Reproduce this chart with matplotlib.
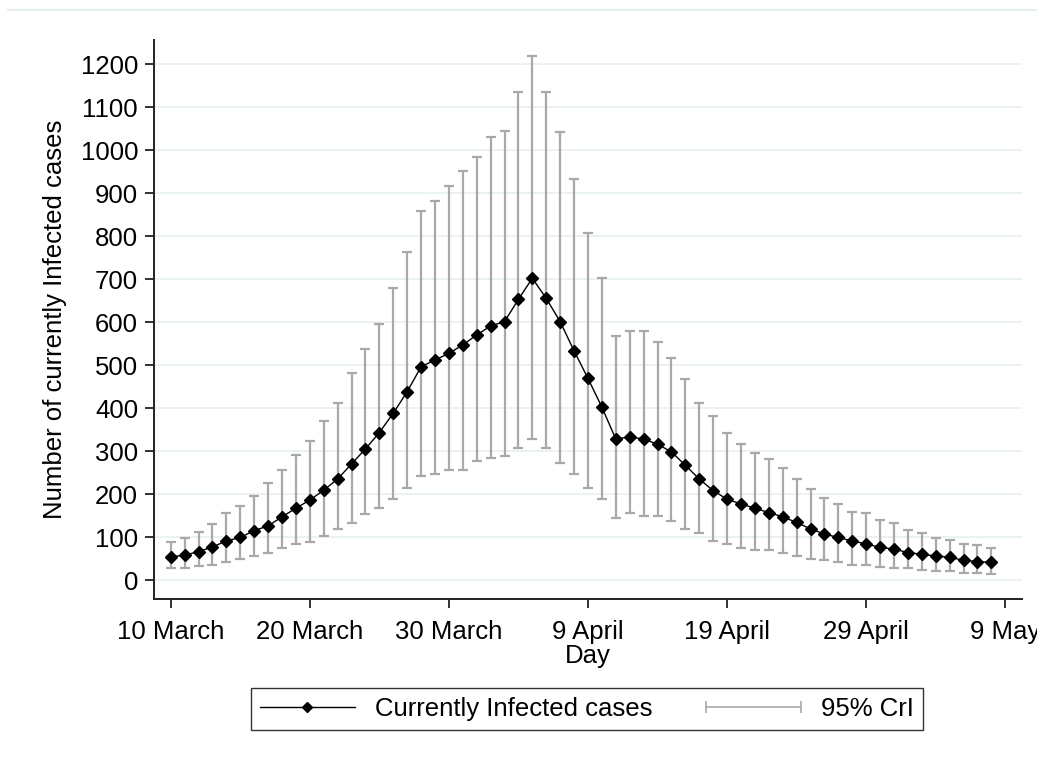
import numpy as np
import matplotlib
matplotlib.use('Agg')
import matplotlib.pyplot as plt
from matplotlib.lines import Line2D
from matplotlib.legend_handler import HandlerLine2D

plt.rcParams['font.family'] = ['Liberation Sans', 'DejaVu Sans']

# days since 10 March
days = np.arange(60)
tick_days = [0, 10, 20, 30, 40, 50, 60]
tick_labels = ['10 March', '20 March', '30 March', '9 April', '19 April', '29 April', '9 May']

infected = [54, 58, 66, 77, 91, 99, 115, 126, 147, 167,
            186, 209, 235, 270, 305, 343, 388, 438, 496, 512,
            527, 547, 570, 591, 601, 653, 702, 655, 601, 533,
            469, 402, 328, 333, 328, 316, 298, 267, 235, 208,
            188, 177, 167, 157, 147, 134, 119, 107, 99, 91,
            84, 76, 72, 64, 60, 56, 53, 46, 43, 41]
upper = [89, 98, 112, 130, 157, 172, 195, 226, 257, 292,
         323, 370, 412, 482, 537, 595, 680, 762, 858, 881,
         917, 951, 983, 1030, 1045, 1134, 1219, 1134, 1041, 932,
         808, 703, 567, 579, 579, 553, 517, 467, 412, 381,
         343, 316, 296, 281, 260, 234, 211, 191, 178, 159,
         155, 140, 132, 116, 109, 97, 93, 85, 81, 74]
lower = [27, 27, 33, 36, 43, 50, 56, 62, 75, 83,
         89, 102, 118, 133, 153, 168, 188, 215, 242, 246,
         255, 257, 277, 284, 288, 308, 327, 308, 273, 247,
         215, 188, 145, 157, 149, 149, 137, 118, 110, 91,
         83, 75, 71, 71, 64, 56, 50, 47, 43, 36,
         36, 31, 27, 27, 23, 21, 21, 17, 17, 13]

infected = np.array(infected)
upper = np.array(upper)
lower = np.array(lower)

fig = plt.figure(figsize=(10.37, 7.61), dpi=100)
# faint frame line at the very top (graph region edge)
fig.add_artist(Line2D([8 / 1037, 1], [1 - 10 / 761] * 2, color='#e6eef0',
                      linewidth=1.5, transform=fig.transFigure))

ax = fig.add_axes([0.1485, 0.2129, 0.8370, 0.7345])

ax.set_axisbelow(True)
ax.yaxis.grid(True, color='#e8f0f2', linewidth=1.2)

err_col = '#a9a9a9'
ax.errorbar(days, infected, yerr=[infected - lower, upper - infected],
            fmt='none', ecolor=err_col, elinewidth=1.6, capsize=3.8, capthick=1.6)
ax.plot(days, infected, color='black', linewidth=1.0, marker='D',
        markersize=6.5, markerfacecolor='black', markeredgecolor='black')

ax.set_xlim(-1.2, 61.2)
ax.set_ylim(-44, 1256)
ax.set_yticks(np.arange(0, 1201, 100))
ax.set_xticks(tick_days)
ax.set_xticklabels(tick_labels)

for s in ['top', 'right']:
    ax.spines[s].set_visible(False)
for s in ['left', 'bottom']:
    ax.spines[s].set_color('#222222')
    ax.spines[s].set_linewidth(1.4)
ax.tick_params(axis='both', direction='out', length=6.5, width=1.3,
               color='#222222', labelsize=18.5)
ax.tick_params(axis='x', pad=8.5)
ax.tick_params(axis='y', pad=5)

ax.set_ylabel('Number of currently Infected cases', fontsize=18.5, labelpad=10)
ax.set_xlabel('Day', fontsize=18.5, labelpad=0)

h_line = Line2D([], [], color='black', linewidth=1.0, marker='D', markersize=5.5)
h_err = Line2D([], [], color=err_col, linewidth=1.2, marker='|', markersize=9,
               markeredgewidth=1.2)
fig.legend([h_line, h_err], ['Currently Infected cases', '95% CrI'],
           loc='center', bbox_to_anchor=(587 / 1037, 1 - 709 / 761), ncol=2,
           fontsize=18.5, frameon=True, fancybox=False, edgecolor='black',
           handlelength=3.7, handletextpad=0.78, columnspacing=2.1,
           borderpad=0.35, borderaxespad=0,
           handler_map={h_line: HandlerLine2D(numpoints=1),
                        h_err: HandlerLine2D(numpoints=2, marker_pad=0)})

fig.savefig('out.png', dpi=100, facecolor='white')
